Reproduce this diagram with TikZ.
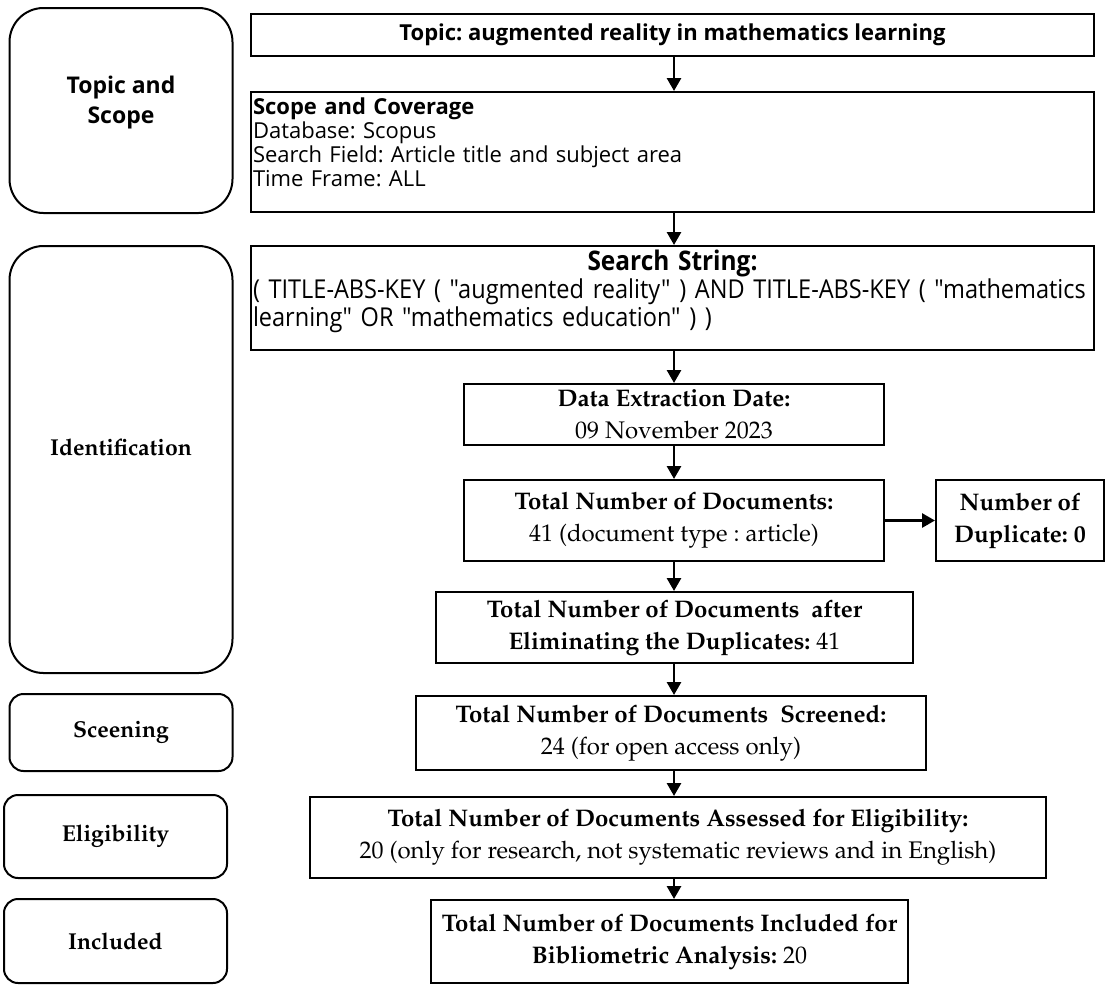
\documentclass[tikz,border=0pt]{standalone}
\usepackage[T1]{fontenc}
\usepackage{fontspec}
\setsansfont{Open Sans}
\newfontfamily\narrowsans[FakeStretch=0.905]{Open Sans}
\usetikzlibrary{arrows.meta}
\frenchspacing
\newcommand{\pala}{\fontencoding{T1}\fontfamily{ppl}\selectfont}
\newcommand{\serifbox}{\pala\fontsize{12}{16}\selectfont}
\newcommand{\seriflabel}{\pala\bfseries\fontsize{11.5}{14}\selectfont}
\newcommand{\sansbox}{\sffamily\fontsize{11}{12}\selectfont}
\newcommand{\liftup}[1]{\par\vspace{#1}\hrule height 0pt}
\begin{document}
\begin{tikzpicture}[x=0.5pt,y=-0.5pt]
\tikzset{
    stage/.style 2 args={draw, line width=1pt, rounded corners=#1, minimum width=111.5pt, minimum height=#2*0.5pt, inner sep=0pt, align=center, font=\seriflabel},
    flowbox/.style 2 args={draw, line width=1pt, minimum width=#1*0.5pt, minimum height=#2*0.5pt, inner sep=1pt, align=center, font=\serifbox},
    flowarrow/.style={-{Triangle[length=6.5pt,width=7pt]}, line width=1.4pt}
}
\useasboundingbox (0,0) rectangle (1112,985);
\coordinate (col) at (674,0);
% stages on the left
\node[stage={17pt}{205}, text depth=11pt, font=\sffamily\bfseries\fontsize{11.5}{15}\selectfont] (tands) at (121,110.5) {Topic and\\Scope};
\node[stage={17pt}{427}, text depth=12.5pt] (ident) at (121,459.5) {Identification};
\node[stage={7pt}{77}] (sceen) at (121,732.5) {Sceening};
\node[stage={7pt}{83}] (eligs) at (115.5,836.5) {Eligibility};
\node[stage={7pt}{84}] (incls) at (115.5,941) {Included};
% flow boxes
\node[flowbox={843}{42}, font=\sffamily\bfseries\fontsize{11}{13}\selectfont] (topic) at (672.5,35) {Topic: augmented reality in mathematics learning};
\node[draw, line width=1pt, minimum height=60pt, inner sep=1pt, text width=419.5pt, align=left, font=\sansbox] (scope) at (672.5,152)
  {\textbf{Scope and Coverage}\\Database: Scopus\\Search Field: Article title and subject area\\Time Frame: ALL\liftup{10pt}};
\node[draw, line width=1pt, minimum height=52pt, inner sep=1pt, text width=419.5pt, align=left, font=\narrowsans\fontsize{13}{14}\selectfont] (search) at (672.5,298)
  {\makebox[\linewidth]{\fontsize{13.5}{14}\selectfont\bfseries Search String:}\\( TITLE-ABS-KEY ( "augmented reality" ) AND TITLE-ABS-KEY ( "mathematics\\learning" OR "mathematics education" ) )\liftup{7pt}};
\node[flowbox={420}{61}] (date) at (674,414.5) {\textbf{Data Extraction Date:}\\09 November 2023};
\node[flowbox={420}{81}] (total) at (674,520.5) {\textbf{Total Number of Documents:}\\41 (document type : article)};
\node[flowbox={168}{81}, font=\serifbox\bfseries] (dup) at (1020,520.5) {Number of\\Duplicate: 0};
\node[flowbox={477}{71}] (elim) at (674.5,627.5) {\textbf{Total Number of Documents\ \ after}\\\textbf{Eliminating the Duplicates:} 41};
\node[flowbox={510}{74}] (screen) at (671,733) {\textbf{Total Number of Documents\ \ Screened:}\\24 (for open access only)};
\node[flowbox={736}{81}] (elig) at (678,837.5) {\textbf{Total Number of Documents Assessed for Eligibility:}\\20 (only for research, not systematic reviews and in English)};
\node[flowbox={477}{83}] (incl) at (669.5,941.5) {\textbf{Total Number of Documents Included for}\\\textbf{Bibliometric Analysis:} 20};
% arrows
\draw[flowarrow] (topic.south -| col) -- (scope.north -| col);
\draw[flowarrow] (scope.south -| col) -- (search.north -| col);
\foreach \a/\b in {search/date, date/total, total/elim, elim/screen, screen/elig, elig/incl}
{
  \draw[flowarrow] (\a.south -| col) -- (\b.north -| col);
}
\draw[flowarrow] (total.east) -- (dup.west);
\end{tikzpicture}
\end{document}
